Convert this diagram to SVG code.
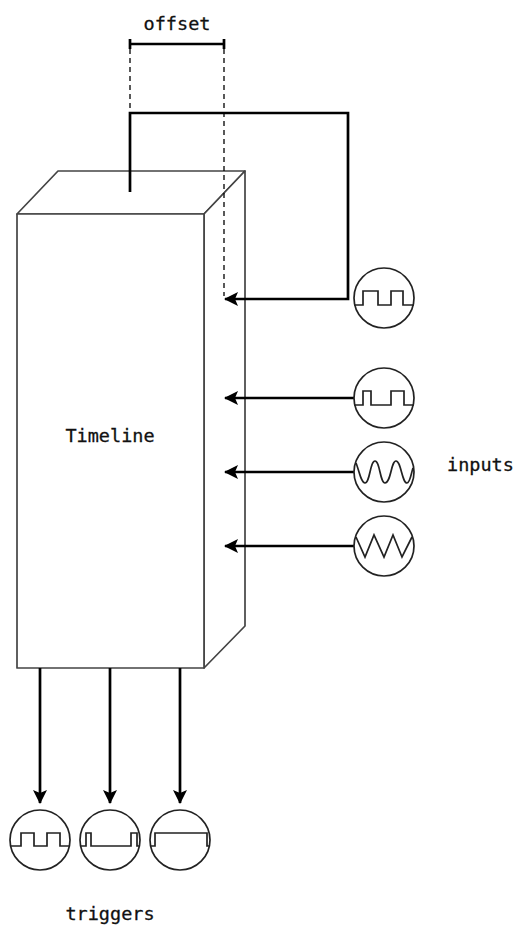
<svg xmlns="http://www.w3.org/2000/svg" width="516" height="925" viewBox="0 0 516 925">
<defs>
<marker id="ah" viewBox="0 0 14 14" refX="13" refY="7" markerWidth="14" markerHeight="14" markerUnits="userSpaceOnUse" orient="auto">
<path d="M0,0 L14,7 L0,14 L3,7 Z" fill="#000"/>
</marker>
</defs>
<style>
.box{fill:#fff;stroke:#444;stroke-width:1.7;stroke-linejoin:round}
.wire{fill:none;stroke:#000;stroke-width:2.7}
.dash{fill:none;stroke:#000;stroke-width:1.3;stroke-dasharray:5,4}
.ring{fill:#fff;stroke:#222;stroke-width:1.7}
.wave{fill:none;stroke:#222;stroke-width:1.7;stroke-linejoin:miter}
.lbl{font-family:"DejaVu Sans Mono",monospace;font-size:18.5px;fill:#111;stroke:#111;stroke-width:0.3}
</style>
<rect width="516" height="925" fill="#fff"/>
<g id="timeline">
<polygon class="box" points="17,214 58,171 245,171 204,214"/>
<polygon class="box" points="204,214 245,171 245,626 204,668"/>
<rect class="box" x="17" y="214" width="187" height="454"/>
<text class="lbl" x="110" y="442" text-anchor="middle">Timeline</text>
</g>
<g id="offset">
<line class="dash" x1="130" y1="40" x2="130" y2="113"/>
<line class="dash" x1="224" y1="40" x2="224" y2="296"/>
<path class="wire" d="M130,44 H224 M130,39 V49 M224,39 V49"/>
<text class="lbl" x="177" y="30" text-anchor="middle">offset</text>
</g>
<g id="connectors">
<path class="wire" d="M130,192 V113 H348 V299 H225" marker-end="url(#ah)"/>
<line class="wire" x1="354" y1="398" x2="225" y2="398" marker-end="url(#ah)"/>
<line class="wire" x1="354" y1="472" x2="225" y2="472" marker-end="url(#ah)"/>
<line class="wire" x1="354" y1="546" x2="225" y2="546" marker-end="url(#ah)"/>
<line class="wire" x1="40" y1="668" x2="40" y2="803" marker-end="url(#ah)"/>
<line class="wire" x1="110" y1="668" x2="110" y2="803" marker-end="url(#ah)"/>
<line class="wire" x1="180" y1="668" x2="180" y2="803" marker-end="url(#ah)"/>
</g>
<g id="input1">
<circle class="ring" cx="384" cy="298" r="30"/>
<path class="wave" d="M354,305 H363 V291 H378 V305 H391 V291 H403 V305 H414"/>
</g>
<g id="input2">
<circle class="ring" cx="384" cy="398" r="30"/>
<path class="wave" d="M354,405 H363 V391 H371 V405 H391 V391 H404 V405 H414"/>
</g>
<g id="input3">
<circle class="ring" cx="384" cy="472" r="30"/>
<path class="wave" d="M356,463 C359,470 361,483 365,483 C370,483 370,461 375,461 C380,461 380,483 385,483 C391,483 391,461 396,461 C401,461 402,483 407,483 C410,483 411,474 413,468"/>
</g>
<g id="input4">
<circle class="ring" cx="384" cy="546" r="30"/>
<path class="wave" d="M356,537 L365,557 L374,535 L384,557 L393,535 L402,557 L412,537"/>
</g>
<text class="lbl" x="447" y="471">inputs</text>
<g id="trigger1">
<circle class="ring" cx="40" cy="840" r="30"/>
<path class="wave" d="M10,846 H21 V833 H34 V846 H47 V833 H60 V846 H70"/>
</g>
<g id="trigger2">
<circle class="ring" cx="110" cy="840" r="30"/>
<path class="wave" d="M80,846 H86 V833 H91 V846 H131 V833 H137 V846 H140"/>
</g>
<g id="trigger3">
<circle class="ring" cx="180" cy="840" r="30"/>
<path class="wave" d="M150,846 H155 V833 H207 V846 H210"/>
</g>
<text class="lbl" x="110" y="920" text-anchor="middle">triggers</text>
</svg>
